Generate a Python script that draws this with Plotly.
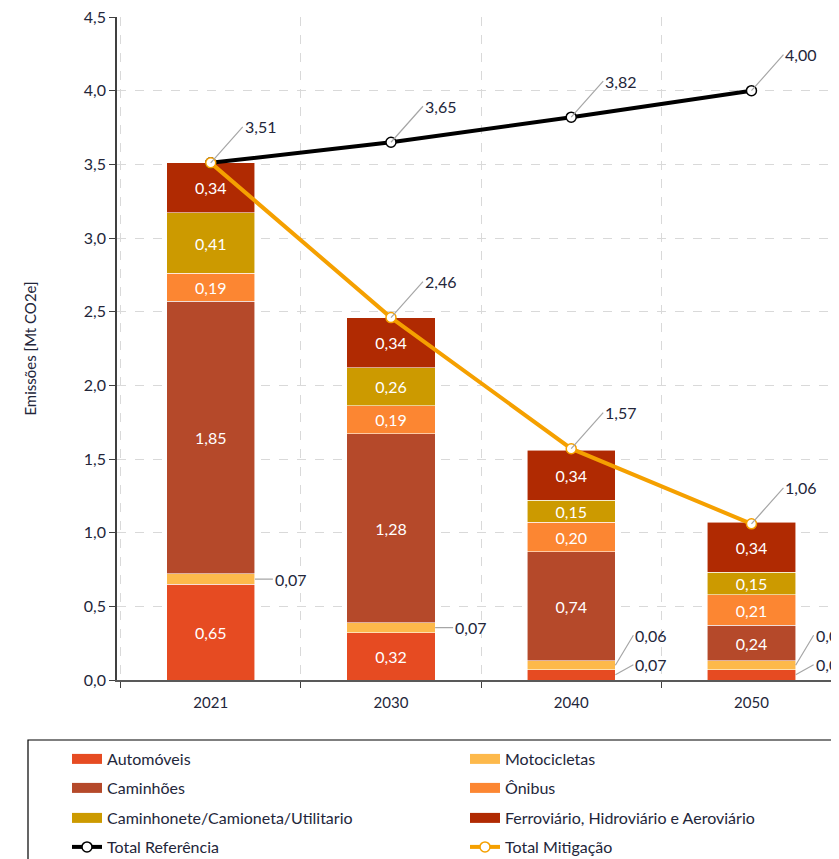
import plotly.graph_objects as go

# ---------------- data ----------------
years = ["2021", "2030", "2040", "2050"]
automoveis = [0.65, 0.32, 0.07, 0.07]
motocicletas = [0.07, 0.07, 0.06, 0.06]
caminhoes = [1.85, 1.28, 0.74, 0.24]
onibus = [0.19, 0.19, 0.20, 0.21]
caminhonete = [0.41, 0.26, 0.15, 0.15]
ferroviario = [0.34, 0.34, 0.34, 0.34]
total_referencia = [3.51, 3.65, 3.82, 4.00]
total_mitigacao = [3.51, 2.46, 1.57, 1.06]
y_tick_values = [0.0, 0.5, 1.0, 1.5, 2.0, 2.5, 3.0, 3.5, 4.0, 4.5]

series_names = [
    "Automóveis", "Motocicletas", "Caminhões", "Ônibus",
    "Caminhonete/Camioneta/Utilitario", "Ferroviário, Hidroviário e Aeroviário",
]
series_values = [automoveis, motocicletas, caminhoes, onibus, caminhonete, ferroviario]
series_colors = ["#E64B22", "#FDB94B", "#B5492A", "#FC8632", "#CC9A00", "#B02A02"]
line_names = ["Total Referência", "Total Mitigação"]
line_values = [total_referencia, total_mitigacao]
line_colors = ["#000000", "#F5A000"]

FONT = "Lato, Open Sans, Liberation Sans, Arial"
TXT = "#23263a"
SMALL = 0.1
BAR_W = 0.49
OFF = 8  # page body margin

fig = go.Figure()

# stacked bars
for name, vals, col in zip(series_names, series_values, series_colors):
    fig.add_trace(go.Bar(
        x=years, y=vals, name=name, width=BAR_W,
        marker=dict(color=col, line=dict(color="rgba(255,255,255,0.7)", width=0.8)),
        text=[f"{v:.2f}".replace(".", ",") for v in vals],
        textposition=["inside" if v >= SMALL else "none" for v in vals],
        insidetextanchor="middle", textangle=0,
        insidetextfont=dict(color="white", size=16, family=FONT),
        showlegend=False, hoverinfo="skip",
    ))

legend_ids = ["legend", "legend2", "legend3", "legend4",
              "legend5", "legend6", "legend7", "legend8"]

# lines
for i, (name, vals, col) in enumerate(zip(line_names, line_values, line_colors)):
    fig.add_trace(go.Scatter(
        x=years, y=vals, name=name, mode="lines+markers",
        line=dict(color=col, width=4),
        marker=dict(symbol="circle", size=10, color="white", line=dict(color=col, width=1.5)),
        legend=legend_ids[6 + i],
    ))

# legend dummies for bar series (wide swatches)
for i, (name, col) in enumerate(zip(series_names, series_colors)):
    fig.add_trace(go.Scatter(
        x=[None], y=[None], mode="lines", name=name,
        line=dict(color=col, width=10), legend=legend_ids[i],
    ))

annotations = []
# outside labels for thin segments
for j, yr in enumerate(years):
    base = 0.0
    small = []
    for vals in series_values:
        v = vals[j]
        if v < SMALL:
            small.append((base + v / 2, v))
        base += v
    for k, (yc, v) in enumerate(small):
        ay = 0 if len(small) == 1 else -10 - 20 * k
        annotations.append(dict(
            x=j + BAR_W / 2, y=yc, xref="x", yref="y",
            text=f"{v:.2f}".replace(".", ","), showarrow=True, arrowhead=0,
            arrowcolor="#a6a6a6", arrowwidth=1.2, ax=18, ay=ay,
            xanchor="left", yanchor="middle",
            font=dict(size=16, color=TXT, family=FONT),
        ))

# line value labels
for idx, vals in enumerate(line_values):
    for j, v in enumerate(vals):
        if idx == 1 and abs(v - total_referencia[j]) < 1e-9:
            continue
        annotations.append(dict(
            x=j, y=v, xref="x", yref="y",
            text=f"{v:.2f}".replace(".", ","), showarrow=True, arrowhead=0,
            arrowcolor="#a6a6a6", arrowwidth=1.2, ax=32, ay=-36,
            xanchor="left", yanchor="middle",
            font=dict(size=16, color=TXT, family=FONT),
        ))

# figure geometry (figure px)
L, T, B = 117 - OFF, 17 - OFF, 859 - (680 - OFF)
PW, PH = 839 - L, 859 - T - B

shapes = [dict(type="rect", xref="paper", yref="paper",
               x0=(28 - OFF - L) / PW, x1=1.05,
               y0=-(880 - 680) / PH, y1=-(740 - 680) / PH,
               line=dict(color="#000000", width=1.2), fillcolor="rgba(0,0,0,0)")]

legend_common = dict(
    orientation="h", xref="container", yref="container",
    xanchor="left", yanchor="middle",
    bgcolor="rgba(0,0,0,0)", font=dict(size=16, color=TXT, family=FONT),
    itemclick=False, itemdoubleclick=False,
)
row_y = [759, 788, 818, 847]
col_x = [67, 465]
legend_layout = {}
for k, lid in enumerate(legend_ids):
    r, c = k // 2, k % 2
    legend_layout[lid] = dict(legend_common, x=(col_x[c] - OFF) / 839,
                              y=1 - (row_y[r] - OFF) / 859)

fig.update_layout(
    width=839, height=859,
    margin=dict(l=L, r=0, t=T, b=B),
    paper_bgcolor="white", plot_bgcolor="white",
    barmode="stack", separators=",.",
    uniformtext=dict(minsize=16, mode="show"),
    font=dict(family=FONT, size=16, color=TXT),
    showlegend=True,
    xaxis=dict(
        type="category", range=[-0.52, 3.53], tickson="boundaries",
        ticks="outside", ticklen=6, tickcolor="#404040",
        showline=True, linecolor="#595959", linewidth=1.5,
        showgrid=True, gridcolor="#d9d9d9", griddash="dash", gridwidth=1,
        ticklabelstandoff=8,
        tickfont=dict(size=15, color=TXT, family=FONT),
    ),
    yaxis=dict(
        range=[0, 4.5], tickvals=y_tick_values, tickformat=".1f",
        ticks="outside", ticklen=6, tickcolor="#404040",
        showline=True, linecolor="#404040", linewidth=1.5,
        showgrid=True, gridcolor="#d9d9d9", griddash="dash", gridwidth=1,
        zeroline=False, ticklabeloverflow="allow",
        tickfont=dict(size=16, color=TXT, family=FONT),
        title=dict(text="Emissões [Mt CO2e]", standoff=44,
                   font=dict(size=15, color=TXT, family=FONT)),
    ),
    annotations=annotations,
    shapes=shapes,
    **legend_layout,
)

fig.write_html("out.html")
